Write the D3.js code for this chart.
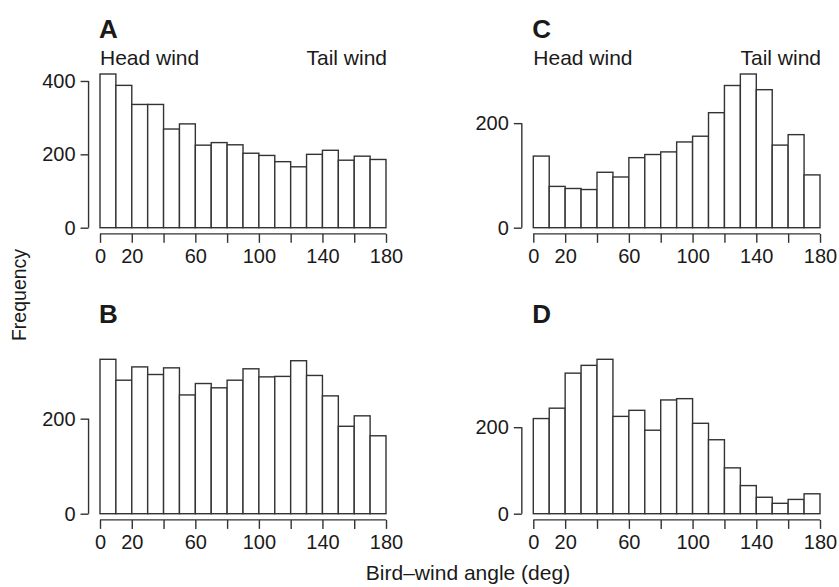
<!DOCTYPE html>
<html>
<head>
<meta charset="utf-8">
<script src="https://cdn.jsdelivr.net/npm/d3@7"></script>
<style>
  body { margin: 0; background: #fff; }
  text { font-family: "Liberation Sans", Arial, sans-serif; fill: #1a1a1a; }
</style>
</head>
<body>
<div id="chart"></div>
<script>
// bin edges, every 10 deg from 0 to 180
var binStarts = [0, 10, 20, 30, 40, 50, 60, 70, 80, 90, 100, 110, 120, 130, 140, 150, 160, 170];

// counts
var countsA = [419, 388, 336, 336, 269, 283, 225, 232, 226, 203, 197, 180, 166, 200, 211, 184, 195, 186];
var countsB = [325, 281, 309, 293, 307, 250, 274, 265, 281, 305, 288, 289, 322, 291, 248, 184, 206, 164];
var countsC = [137, 79, 75, 73, 106, 97, 134, 140, 145, 164, 175, 220, 272, 294, 264, 158, 178, 101];
var countsD = [220, 244, 325, 343, 357, 225, 239, 193, 263, 266, 209, 171, 106, 65, 38, 24, 33, 46];

var xTicks = [0, 20, 40, 60, 80, 100, 120, 140, 160, 180];
var xLabels = [0, 20, 60, 100, 140, 180];
var yTicksA = [0, 200, 400];
var yTicksB = [0, 200];
var yTicksC = [0, 200];
var yTicksD = [0, 200];

var W = 839, H = 587;
var lineCol = "#333";

var svg = d3.select("#chart").append("svg")
  .attr("width", W)
  .attr("height", H);

// one panel per histogram
var panels = [
  { id: "A", counts: countsA, yticks: yTicksA, left: 100, right: 386, base: 227.7, top: 74, winds: true },
  { id: "C", counts: countsC, yticks: yTicksC, left: 533.3, right: 820, base: 227.7, top: 74, winds: true },
  { id: "B", counts: countsB, yticks: yTicksB, left: 100, right: 386, base: 513.7, top: 359.3, winds: false },
  { id: "D", counts: countsD, yticks: yTicksD, left: 533.3, right: 820, base: 513.7, top: 359.3, winds: false }
];

panels.forEach(function(p) {
  var maxV = d3.max(p.counts);
  var span = p.base - p.top;
  // R style 4% padding on each side
  var y = d3.scaleLinear()
    .domain([-0.04 * maxV, 1.04 * maxV])
    .range([p.base + 0.04 * span, p.top - 0.04 * span]);
  var x = d3.scaleLinear()
    .domain([-7.2, 187.2])
    .range([p.left - 0.04 * (p.right - p.left), p.right + 0.04 * (p.right - p.left)]);

  var g = svg.append("g");

  g.selectAll("rect")
    .data(p.counts)
    .enter()
    .append("rect")
    .attr("x", function(d, i) { return x(binStarts[i]); })
    .attr("y", function(d) { return y(d); })
    .attr("width", function(d, i) { return x(binStarts[i] + 10) - x(binStarts[i]); })
    .attr("height", function(d) { return y(0) - y(d); })
    .attr("fill", "#fff")
    .attr("stroke", lineCol)
    .attr("stroke-width", 1.4);

  // x axis at bottom of plot region
  var xAxis = d3.axisBottom(x)
    .tickValues(xTicks)
    .tickSize(9)
    .tickPadding(6)
    .tickFormat(function(d) { return xLabels.indexOf(d) >= 0 ? d : ""; });
  var gx = g.append("g")
    .attr("transform", "translate(0," + y.range()[0] + ")")
    .call(xAxis);
  gx.select(".domain")
    .attr("d", "M" + x(0) + ",0H" + x(180));

  // y axis at left of plot region
  var yAxis = d3.axisLeft(y)
    .tickValues(p.yticks)
    .tickSize(8)
    .tickPadding(5);
  var gy = g.append("g")
    .attr("transform", "translate(" + x.range()[0] + ",0)")
    .call(yAxis);
  gy.select(".domain")
    .attr("d", "M0," + y(0) + "V" + y(d3.max(p.yticks)));

  [gx, gy].forEach(function(a) {
    a.selectAll("path, line").attr("stroke", lineCol).attr("stroke-width", 1.4);
    a.selectAll("text").attr("font-size", "20px").attr("fill", "#1a1a1a")
      .style("font-family", "'Liberation Sans', Arial, sans-serif");
  });

  // panel letter
  g.append("text")
    .attr("x", x(0) - 1)
    .attr("y", p.top - 36)
    .attr("font-size", "26px")
    .attr("font-weight", "bold")
    .text(p.id);

  if (p.winds) {
    g.append("text")
      .attr("x", x(0))
      .attr("y", p.top - 9)
      .attr("font-size", "21px")
      .text("Head wind");
    g.append("text")
      .attr("x", x(180) + 1)
      .attr("y", p.top - 9)
      .attr("font-size", "21px")
      .attr("text-anchor", "end")
      .text("Tail wind");
  }
});

svg.append("text")
  .attr("transform", "translate(25.5,295) rotate(-90)")
  .attr("text-anchor", "middle")
  .attr("font-size", "19.5px")
  .text("Frequency");

svg.append("text")
  .attr("x", 468)
  .attr("y", 580)
  .attr("text-anchor", "middle")
  .attr("font-size", "21px")
  .text("Bird\u2013wind angle (deg)");
</script>
</body>
</html>
